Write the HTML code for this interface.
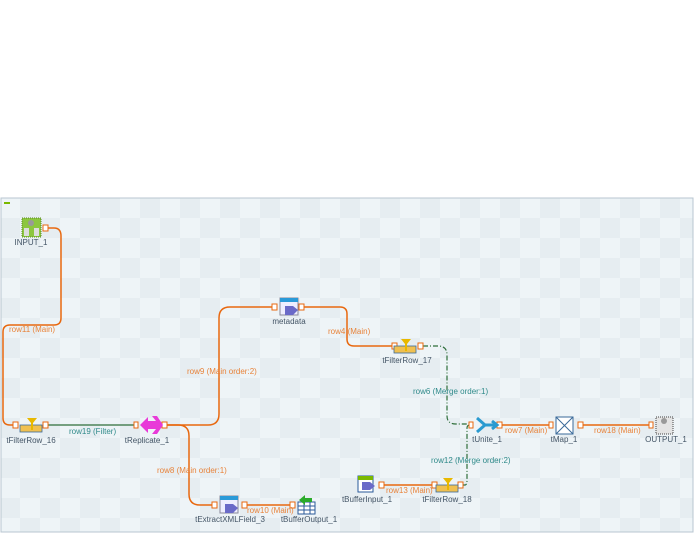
<!DOCTYPE html>
<html><head><style>
body{margin:0;width:695px;height:535px;background:#fff;overflow:hidden;font-family:"Liberation Sans",sans-serif}
svg{position:absolute;left:0;top:0}
text{font-family:"Liberation Sans",sans-serif;font-size:8px}
.n{fill:#445566;text-anchor:middle}
.o{fill:#e8833a}
.g{fill:#2f8a8a}
.c{fill:none;stroke:#e8680f;stroke-width:1.5}
.d{fill:none;stroke:#2e6e3a;stroke-width:1.2;stroke-dasharray:5 2 1 2}
.p{fill:#fff;stroke:#e8680f;stroke-width:1}
</style></head><body>
<svg width="695" height="535" viewBox="0 0 695 535">
<defs>
<pattern id="ck" x="0" y="198" width="40" height="40" patternUnits="userSpaceOnUse">
<rect width="40" height="40" fill="#eef4f7"/>
<rect x="20" y="0" width="20" height="20" fill="#e6edf1"/>
<rect x="0" y="20" width="20" height="20" fill="#e6edf1"/>
</pattern>
</defs>
<rect x="1" y="198" width="692" height="334" fill="url(#ck)" stroke="#b8c6d0" stroke-width="1"/>
<rect x="4" y="202" width="6" height="2" fill="#7ab800"/>

<!-- connections -->
<path class="c" d="M47 228 H54 Q61 228 61 236 V318 Q61 325 54 325 H10 Q3 325 3 332 V418 Q3 425 10 425 H15"/>
<line x1="47" y1="425" x2="135" y2="425" stroke="#2e6e3a" stroke-width="1.2"/>
<path class="c" d="M167 425 H208 Q219 425 219 414 V318 Q219 307 230 307 H273"/>
<path class="c" d="M167 425 H178 Q189 425 189 436 V494 Q189 505 200 505 H213"/>
<path class="c" d="M302 307 H340 Q347 307 347 314 V339 Q347 346 354 346 H393"/>
<path class="d" d="M423 346 H438 Q447 346 447 355 V416 Q447 424 456 424 H470"/>
<path class="d" d="M462 485 H465 Q467 485 467 480 V428 Q467 425 470 425"/>
<path class="c" d="M500 425 H550"/>
<path class="c" d="M581 425 H650"/>
<path class="c" d="M381 485 H433"/>
<path class="c" d="M245 505 H291"/>

<!-- ports -->
<g>
<rect class="p" x="43" y="225" width="5" height="6"/>
<rect class="p" x="13" y="422" width="5" height="6"/><rect class="p" x="43" y="422" width="5" height="6"/>
<rect class="p" x="134" y="422" width="4" height="6"/><rect class="p" x="162" y="422" width="5" height="6"/>
<rect class="p" x="272" y="304" width="5" height="6"/><rect class="p" x="299" y="304" width="5" height="6"/>
<rect class="p" x="392" y="343" width="5" height="6"/><rect class="p" x="418" y="343" width="5" height="6"/>
<rect class="p" x="469" y="422" width="4" height="6"/><rect class="p" x="497" y="422" width="5" height="6"/>
<rect class="p" x="549" y="422" width="4" height="6"/><rect class="p" x="578" y="422" width="5" height="6"/>
<rect class="p" x="649" y="422" width="4" height="6"/>
<rect class="p" x="379" y="482" width="5" height="6"/><rect class="p" x="432" y="482" width="5" height="6"/><rect class="p" x="458" y="482" width="5" height="6"/>
<rect class="p" x="212" y="502" width="5" height="6"/><rect class="p" x="242" y="502" width="5" height="6"/><rect class="p" x="290" y="502" width="5" height="6"/>
</g>

<!-- icons -->
<rect x="22" y="218" width="19" height="19" fill="#8cc63f" stroke="#5a8a20" stroke-dasharray="1 1"/>
<circle cx="31" cy="223" r="3" fill="#999"/><rect x="24" y="228" width="5" height="8" fill="#ddd"/><rect x="34" y="228" width="5" height="8" fill="#ddd"/>
<!-- filter rows -->
<g id="fr"><rect x="20" y="425" width="22" height="7" fill="#f0c050" stroke="#3a6a9a" stroke-width="0.8"/><path d="M27 418 H37 L33 423 V430 H31 V423Z" fill="#e8b800"/></g>
<use href="#fr" x="374" y="-79"/>
<use href="#fr" x="416" y="60"/>
<!-- replicate -->
<path d="M140 425 L148 417 V421 H156 L152 416 H157 L163 425 L157 434 H152 L156 429 H148 V433Z" fill="#e83ad8"/>
<!-- metadata / extract -->
<g id="md"><rect x="280" y="298" width="18" height="17" fill="#eef" stroke="#889"/><rect x="280" y="298" width="18" height="4" fill="#2a9ad8"/><path d="M285 306 H293 L298 310 L293 315 H285Z" fill="#6a6ac8"/></g>
<use href="#md" x="-60" y="198"/>
<!-- unite -->
<path d="M477 418 L485 425 L477 432 M483 425 H496 M492 421 L497 425 L492 429" stroke="#2a9ad0" stroke-width="3" fill="none"/>
<!-- tmap -->
<rect x="556" y="417" width="17" height="17" fill="#fff" stroke="#3a6a9a"/><path d="M556 417 L573 434 M573 417 L556 434" stroke="#3a6a9a"/>
<!-- output -->
<rect x="656" y="417" width="17" height="17" fill="#e4e4e4" stroke="#444" stroke-dasharray="1 1"/><circle cx="664" cy="421" r="3" fill="#999"/>
<!-- buffer input / output -->
<rect x="358" y="476" width="15" height="16" fill="#fff" stroke="#2a5a9a"/><rect x="358" y="476" width="15" height="4" fill="#7ab800"/><path d="M362 482 H370 L375 486 L370 490 H362Z" fill="#6a6ac8"/>
<rect x="298" y="502" width="17" height="12" fill="#fff" stroke="#2a5a9a"/><path d="M298 506 H315 M298 510 H315 M304 502 V514 M310 502 V514" stroke="#2a5a9a"/><path d="M299 500 L305 495 V498 H312 V502 H305 V505Z" fill="#2aaa2a"/>

<!-- node labels -->
<text class="n" x="31" y="245">INPUT_1</text>
<text class="n" x="31" y="443">tFilterRow_16</text>
<text class="n" x="147" y="443">tReplicate_1</text>
<text class="n" x="289" y="324">metadata</text>
<text class="n" x="407" y="363">tFilterRow_17</text>
<text class="n" x="487" y="442">tUnite_1</text>
<text class="n" x="564" y="442">tMap_1</text>
<text class="n" x="666" y="442">OUTPUT_1</text>
<text class="n" x="367" y="502">tBufferInput_1</text>
<text class="n" x="447" y="502">tFilterRow_18</text>
<text class="n" x="230" y="522">tExtractXMLField_3</text>
<text class="n" x="309" y="522">tBufferOutput_1</text>

<!-- connector labels -->
<text class="o" x="9" y="332">row11 (Main)</text>
<text class="g" x="69" y="434">row19 (Filter)</text>
<text class="o" x="187" y="374">row9 (Main order:2)</text>
<text class="o" x="328" y="334">row4 (Main)</text>
<text class="g" x="413" y="394">row6 (Merge order:1)</text>
<text class="o" x="505" y="433">row7 (Main)</text>
<text class="o" x="594" y="433">row18 (Main)</text>
<text class="g" x="431" y="463">row12 (Merge order:2)</text>
<text class="o" x="386" y="493">row13 (Main)</text>
<text class="o" x="157" y="473">row8 (Main order:1)</text>
<text class="o" x="247" y="513">row10 (Main)</text>
</svg>
</body></html>
